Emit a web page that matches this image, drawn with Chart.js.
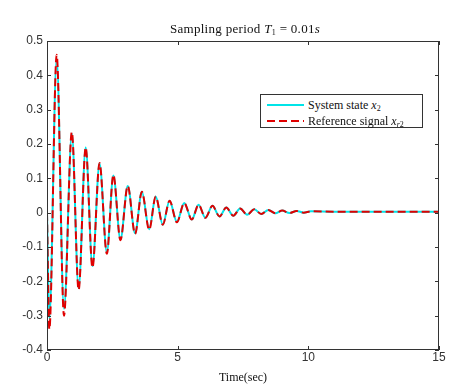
<!DOCTYPE html>
<html>
<head>
<meta charset="utf-8">
<script src="https://cdn.jsdelivr.net/npm/chart.js@4/dist/chart.umd.min.js"></script>
<style>
body { margin: 0; background: #fff; }
#wrap { position: relative; width: 469px; height: 391px; }
#title { position: absolute; left: 0; top: 21px; width: 490px; text-align: center; letter-spacing: 0.3px;
  font: 13px 'Liberation Serif', serif; color: #111; white-space: nowrap; }
#legend { position: absolute; left: 260px; top: 94px; width: 161px; height: 32px;
  border: 1px solid #333; background: #fff; font: 12px 'Liberation Serif', serif; color: #111; }
.row { position: absolute; left: 0; height: 14px; line-height: 14px; white-space: nowrap; }
.row svg { position: absolute; left: 6px; top: 0; }
.row span { position: absolute; left: 47px; top: 0; }
sub { font-size: 8px; vertical-align: -2px; line-height: 0; }
</style>
</head>
<body>
<div id="wrap">
  <canvas id="chart" width="469" height="391"></canvas>
  <div id="title">Sampling period <i>T</i><sub>1</sub> = 0.01<i>s</i></div>
  <div id="legend">
    <div class="row" style="top:3px"><svg width="38" height="14"><line x1="0" y1="7" x2="37" y2="7" stroke="rgb(0,228,232)" stroke-width="2"/></svg><span>System state <i>x</i><sub>2</sub></span></div>
    <div class="row" style="top:19px"><svg width="38" height="14"><line x1="0" y1="7" x2="37" y2="7" stroke="#e00000" stroke-width="2" stroke-dasharray="8,4"/></svg><span>Reference signal <i>x</i><sub><i>r</i>2</sub></span></div>
  </div>
</div>
<script>
// sample times (sec): start, extrema, then the settled tail
const time_sec = [0, 0.09, 0.37, 0.65, 0.95, 1.21, 1.48, 1.74, 2.01, 2.29, 2.54, 2.81,
  3.09, 3.37, 3.63, 3.91, 4.16, 4.43, 4.69, 4.97, 5.25, 5.54, 5.80, 6.06, 6.33, 6.60,
  6.86, 7.13, 7.39, 7.66, 7.93, 8.20, 8.47, 8.74, 9.00, 9.28, 9.55, 9.82, 10.1, 11, 12, 13, 14, 15];
// system state x2 (cyan)
const state_x2 = [0, -0.31, 0.45, -0.28, 0.23, -0.22, 0.19, -0.155, 0.143, -0.115, 0.108, -0.078,
  0.078, -0.06, 0.061, -0.048, 0.047, -0.035, 0.035, -0.027, 0.028, -0.02, 0.023, -0.015, 0.02, -0.011,
  0.015, -0.009, 0.012, -0.006, 0.010, -0.004, 0.008, -0.002, 0.006, -0.001, 0.005, 0.000, 0.004, 0.003, 0.003, 0.003, 0.003, 0.003];
// reference signal xr2 (red dashed)
const ref_xr2 = [0, -0.34, 0.46, -0.30, 0.235, -0.225, 0.19, -0.16, 0.145, -0.12, 0.11, -0.08,
  0.078, -0.062, 0.061, -0.05, 0.047, -0.035, 0.035, -0.028, 0.028, -0.02, 0.023, -0.015, 0.02, -0.011,
  0.015, -0.009, 0.012, -0.006, 0.010, -0.004, 0.008, -0.002, 0.006, -0.001, 0.005, 0.000, 0.004, 0.003, 0.003, 0.003, 0.003, 0.003];
const x_ticks = [0, 5, 10, 15];
const y_ticks = [-0.4, -0.3, -0.2, -0.1, 0, 0.1, 0.2, 0.3, 0.4, 0.5];

const tick_font = {family: "'Liberation Sans', Arial, sans-serif", size: 12};

// box round the plot with inward ticks on all four sides
const frame_box = {
    id: 'frame_box',
    afterDraw(chart) {
        const {ctx, chartArea: a, scales: {x, y}} = chart;
        ctx.save();
        ctx.strokeStyle = '#333';
        ctx.lineWidth = 1;
        ctx.strokeRect(a.left + 0.5, a.top + 0.5, a.right - a.left - 1, a.bottom - a.top - 1);
        ctx.beginPath();
        x.ticks.forEach(t => {
            const px = Math.round(x.getPixelForValue(t.value)) + 0.5;
            ctx.moveTo(px, a.bottom); ctx.lineTo(px, a.bottom - 4);
            ctx.moveTo(px, a.top); ctx.lineTo(px, a.top + 4);
        });
        y.ticks.forEach(t => {
            const py = Math.round(y.getPixelForValue(t.value)) + 0.5;
            ctx.moveTo(a.left, py); ctx.lineTo(a.left + 4, py);
            ctx.moveTo(a.right, py); ctx.lineTo(a.right - 4, py);
        });
        ctx.stroke();
        ctx.restore();
    }
};

const chart = new Chart(document.getElementById('chart'), {
    type: 'line',
    data: {
        labels: time_sec,
        datasets: [
            {
                label: 'System state x2',
                data: time_sec.map((t, i) => ({x: t, y: state_x2[i]})),
                borderColor: 'rgb(0,228,232)',
                borderWidth: 2,
                pointRadius: 0,
                fill: false,
                cubicInterpolationMode: 'monotone',
                order: 2
            },
            {
                label: 'Reference signal xr2',
                data: time_sec.map((t, i) => ({x: t, y: ref_xr2[i]})),
                borderColor: '#e00000',
                borderWidth: 2,
                borderDash: [8, 4],
                pointRadius: 0,
                fill: false,
                cubicInterpolationMode: 'monotone',
                order: 1
            }
        ]
    },
    options: {
        responsive: false,
        animation: false,
        layout: {padding: {top: 41, right: 30, left: 0, bottom: 0}},
        plugins: {legend: {display: false}, title: {display: false}, tooltip: {enabled: false}},
        scales: {
            x: {
                type: 'linear', min: 0, max: 15,
                afterBuildTicks: s => { s.ticks = x_ticks.map(v => ({value: v})); },
                afterFit: s => { s.height = 41; },
                grid: {display: false, drawTicks: false},
                border: {display: false},
                ticks: {font: tick_font, color: '#333', padding: 0, maxRotation: 0},
                title: {display: true, text: 'Time(sec)', color: '#111',
                    font: {family: "'Liberation Serif', serif", size: 12}, padding: {top: 0, bottom: 6}}
            },
            y: {
                min: -0.4, max: 0.5,
                afterBuildTicks: s => { s.ticks = y_ticks.map(v => ({value: v})); },
                afterFit: s => { s.width = 47; },
                grid: {display: false, drawTicks: false},
                border: {display: false},
                ticks: {font: tick_font, color: '#333', padding: 4,
                    callback: v => (Math.abs(v) < 1e-9 ? '0' : v.toFixed(1))}
            }
        }
    },
    plugins: [frame_box]
});
</script>
</body>
</html>
